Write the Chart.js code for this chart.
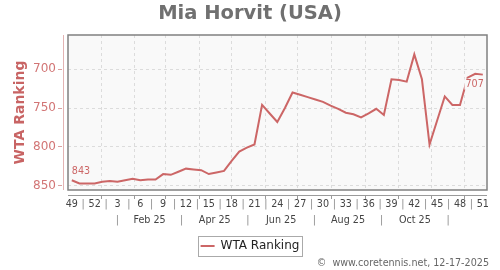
<!DOCTYPE html>
<html>
<head>
<meta charset="utf-8">
<script src="https://cdn.jsdelivr.net/npm/chart.js@4.4.1/dist/chart.umd.min.js"></script>
<style>
  html, body { margin: 0; padding: 0; background: #fff; }
  #wrap { width: 500px; height: 270px; }
</style>
</head>
<body>
<div id="wrap"><canvas id="rankChart" width="500" height="270"></canvas></div>
<script>
// one point per week, 2024 week 49 .. 2025 week 51
const weeks = [49, 50, 51, 52, 1, 2, 3, 4, 5, 6, 7, 8, 9, 10, 11, 12, 13, 14, 15, 16,
    17, 18, 19, 20, 21, 22, 23, 24, 25, 26, 27, 28, 29, 30, 31, 32, 33, 34, 35, 36,
    37, 38, 39, 40, 41, 42, 43, 44, 45, 46, 47, 48, 49, 50, 51];
const ranks = [843, 847, 847, 847, 845, 844, 845, 843, 841, 843, 842, 842, 835, 836, 832, 828,
    829, 830, 835, 833, 831, 818, 806, 801, 797, 746, 757, 768, 750, 730, 733, 736,
    739, 742, 747, 751, 756, 758, 762, 757, 751, 759, 713, 714, 716, 681, 713, 797,
    766, 735, 746, 746, 711, 706, 707];
const rankTicks = [700, 750, 800, 850];
const monthLabels = ['Feb 25', 'Apr 25', 'Jun 25', 'Aug 25', 'Oct 25'];

const lineColor = '#cc6666';
const DAY = 864e5;
const t0 = Date.UTC(2024, 11, 5);
const pos = (y, m, d) => (Date.UTC(y, m, d) - t0) / (7 * DAY);

Chart.defaults.font.family = "'DejaVu Sans', sans-serif";

function weekAxisTicks() {
    const t = [];
    weeks.forEach((w, i) => {
        if (i % 3 === 0) t.push({ value: i, lab: String(w), kind: 'week' });
    });
    for (let i = 0; i + 3 < weeks.length; i += 3) t.push({ value: i + 1.5, lab: '|', kind: 'sep' });
    for (let m = 0; m < 12; m++) t.push({ value: pos(2025, m, 1), lab: '', kind: 'month' });
    return t.sort((a, b) => a.value - b.value);
}

function monthAxisTicks() {
    const seps = [0, 2, 4, 6, 8, 10].map(m => pos(2025, m, 16));
    const t = seps.map(v => ({ value: v, lab: '|', kind: 'sep' }));
    monthLabels.forEach((l, k) => t.push({ value: (seps[k] + seps[k + 1]) / 2, lab: l, kind: 'label' }));
    return t.sort((a, b) => a.value - b.value);
}

const isMonth = c => c.tick && c.tick.kind === 'month';
const labColor = c => (c.tick && c.tick.kind === 'sep') ? '#8a8a8a' : '#444';

const decor = {
    id: 'decor',
    beforeDraw(chart) {
        const { ctx, chartArea: a } = chart;
        ctx.save();
        ctx.fillStyle = '#fff';
        ctx.fillRect(0, 0, chart.width, chart.height);
        ctx.fillStyle = '#f9f9f9';
        ctx.fillRect(a.left, a.top, a.right - a.left, a.bottom - a.top);
        ctx.restore();
    },
    afterDatasetsDraw(chart) {
        const { ctx } = chart;
        const pts = chart.getDatasetMeta(0).data;
        const first = pts[0], last = pts[pts.length - 1];
        ctx.save();
        ctx.font = "9.6px 'DejaVu Sans'";
        ctx.textBaseline = 'middle';
        ctx.fillStyle = lineColor;
        ctx.textAlign = 'left';
        ctx.fillText(String(ranks[0]), first.x, first.y - 9);
        const txt = String(ranks[ranks.length - 1]);
        const w = ctx.measureText(txt).width;
        ctx.fillStyle = '#f9f9f9';
        ctx.fillRect(last.x + 1 - w - 1, last.y + 4, w + 2, 11);
        ctx.fillStyle = lineColor;
        ctx.textAlign = 'right';
        ctx.fillText(txt, last.x + 1, last.y + 9.6);
        ctx.restore();
    },
    afterDraw(chart) {
        const { ctx, chartArea: a } = chart;
        ctx.save();
        // plot frame
        ctx.strokeStyle = '#808080';
        ctx.lineWidth = 1.5;
        ctx.strokeRect(a.left, a.top, a.right - a.left, a.bottom - a.top);
        // y axis line
        ctx.lineWidth = 1;
        ctx.strokeStyle = '#e3b3b3';
        ctx.beginPath();
        ctx.moveTo(a.left - 4.5, a.top);
        ctx.lineTo(a.left - 4.5, a.bottom);
        ctx.stroke();
        // x axis line
        ctx.strokeStyle = '#9a9a9a';
        ctx.beginPath();
        ctx.moveTo(a.left, a.bottom + 5.5);
        ctx.lineTo(a.right, a.bottom + 5.5);
        ctx.stroke();
        // legend box
        const hb = chart.legend.legendHitBoxes[0];
        if (hb) {
            ctx.strokeStyle = '#aaa';
            ctx.strokeRect(Math.round(hb.left - 3) + 0.5, Math.round(hb.top - 4) + 0.5,
                Math.round(hb.width + 5), Math.round(hb.height + 8));
        }
        // copyright
        ctx.font = "9.6px 'DejaVu Sans'";
        ctx.fillStyle = '#666';
        ctx.textAlign = 'right';
        ctx.textBaseline = 'middle';
        ctx.fillText('\u00a9  www.coretennis.net, 12-17-2025', 489, 263);
        ctx.restore();
    }
};

const ctx = document.getElementById('rankChart').getContext('2d');
new Chart(ctx, {
    type: 'line',
    data: {
        datasets: [{
            label: 'WTA Ranking',
            data: ranks.map((v, i) => ({ x: i, y: v })),
            borderColor: lineColor,
            backgroundColor: lineColor,
            borderWidth: 2,
            pointRadius: 0,
            fill: false,
            tension: 0,
            xAxisID: 'x',
            yAxisID: 'y'
        }]
    },
    options: {
        responsive: false,
        animation: false,
        devicePixelRatio: 1,
        events: [],
        layout: { padding: { left: 0, right: 0, top: 0, bottom: 8 } },
        scales: {
            x: {
                type: 'linear',
                position: 'bottom',
                min: -0.5,
                max: 54.55,
                afterBuildTicks: s => { s.ticks = weekAxisTicks(); },
                afterFit: s => { s.height = 22; },
                border: { display: false, dash: [3, 3] },
                grid: {
                    color: c => isMonth(c) ? '#dcdcdc' : 'rgba(0,0,0,0)',
                    tickColor: c => isMonth(c) ? '#9a9a9a' : 'rgba(0,0,0,0)',
                    tickLength: 9,
                    tickBorderDash: [0, 5, 4, 100]
                },
                ticks: {
                    autoSkip: false,
                    maxRotation: 0,
                    minRotation: 0,
                    padding: 0,
                    color: labColor,
                    font: { size: 9.6 },
                    callback: (v, i, ticks) => ticks[i].lab
                }
            },
            x2: {
                type: 'linear',
                position: 'bottom',
                min: -0.5,
                max: 54.55,
                afterBuildTicks: s => { s.ticks = monthAxisTicks(); },
                afterFit: s => { s.height = 18; },
                border: { display: false },
                grid: { display: false, drawTicks: false },
                ticks: {
                    autoSkip: false,
                    maxRotation: 0,
                    minRotation: 0,
                    padding: 3,
                    color: labColor,
                    font: { size: 9.6 },
                    callback: (v, i, ticks) => ticks[i].lab
                }
            },
            y: {
                type: 'linear',
                position: 'left',
                reverse: true,
                min: 656,
                max: 855.5,
                afterBuildTicks: s => { s.ticks = rankTicks.map(v => ({ value: v })); },
                afterFit: s => { s.width = 68; },
                border: { display: false, dash: [3, 3] },
                grid: {
                    color: '#dcdcdc',
                    tickColor: '#dba0a0',
                    tickLength: 10,
                    tickBorderDash: [4, 100]
                },
                ticks: {
                    color: '#d27575',
                    padding: 2,
                    font: { size: 12 }
                },
                title: {
                    display: true,
                    text: 'WTA Ranking',
                    color: '#c86464',
                    font: { size: 14, weight: 'bold' },
                    padding: { top: 12, bottom: 0 }
                }
            },
            yr: {
                type: 'linear',
                position: 'right',
                afterFit: s => { s.width = 13; },
                border: { display: false },
                grid: { display: false },
                ticks: { display: false }
            }
        },
        plugins: {
            tooltip: { enabled: false },
            title: {
                display: true,
                text: 'Mia Horvit (USA)',
                color: '#707070',
                font: { size: 19.5, weight: 'bold' },
                padding: { top: 2, bottom: 9.6 }
            },
            legend: {
                position: 'bottom',
                labels: {
                    usePointStyle: true,
                    pointStyle: 'line',
                    pointStyleWidth: 14,
                    boxWidth: 14,
                    padding: 10,
                    color: '#222',
                    font: { size: 12 }
                }
            }
        }
    },
    plugins: [decor]
});
</script>
</body>
</html>
